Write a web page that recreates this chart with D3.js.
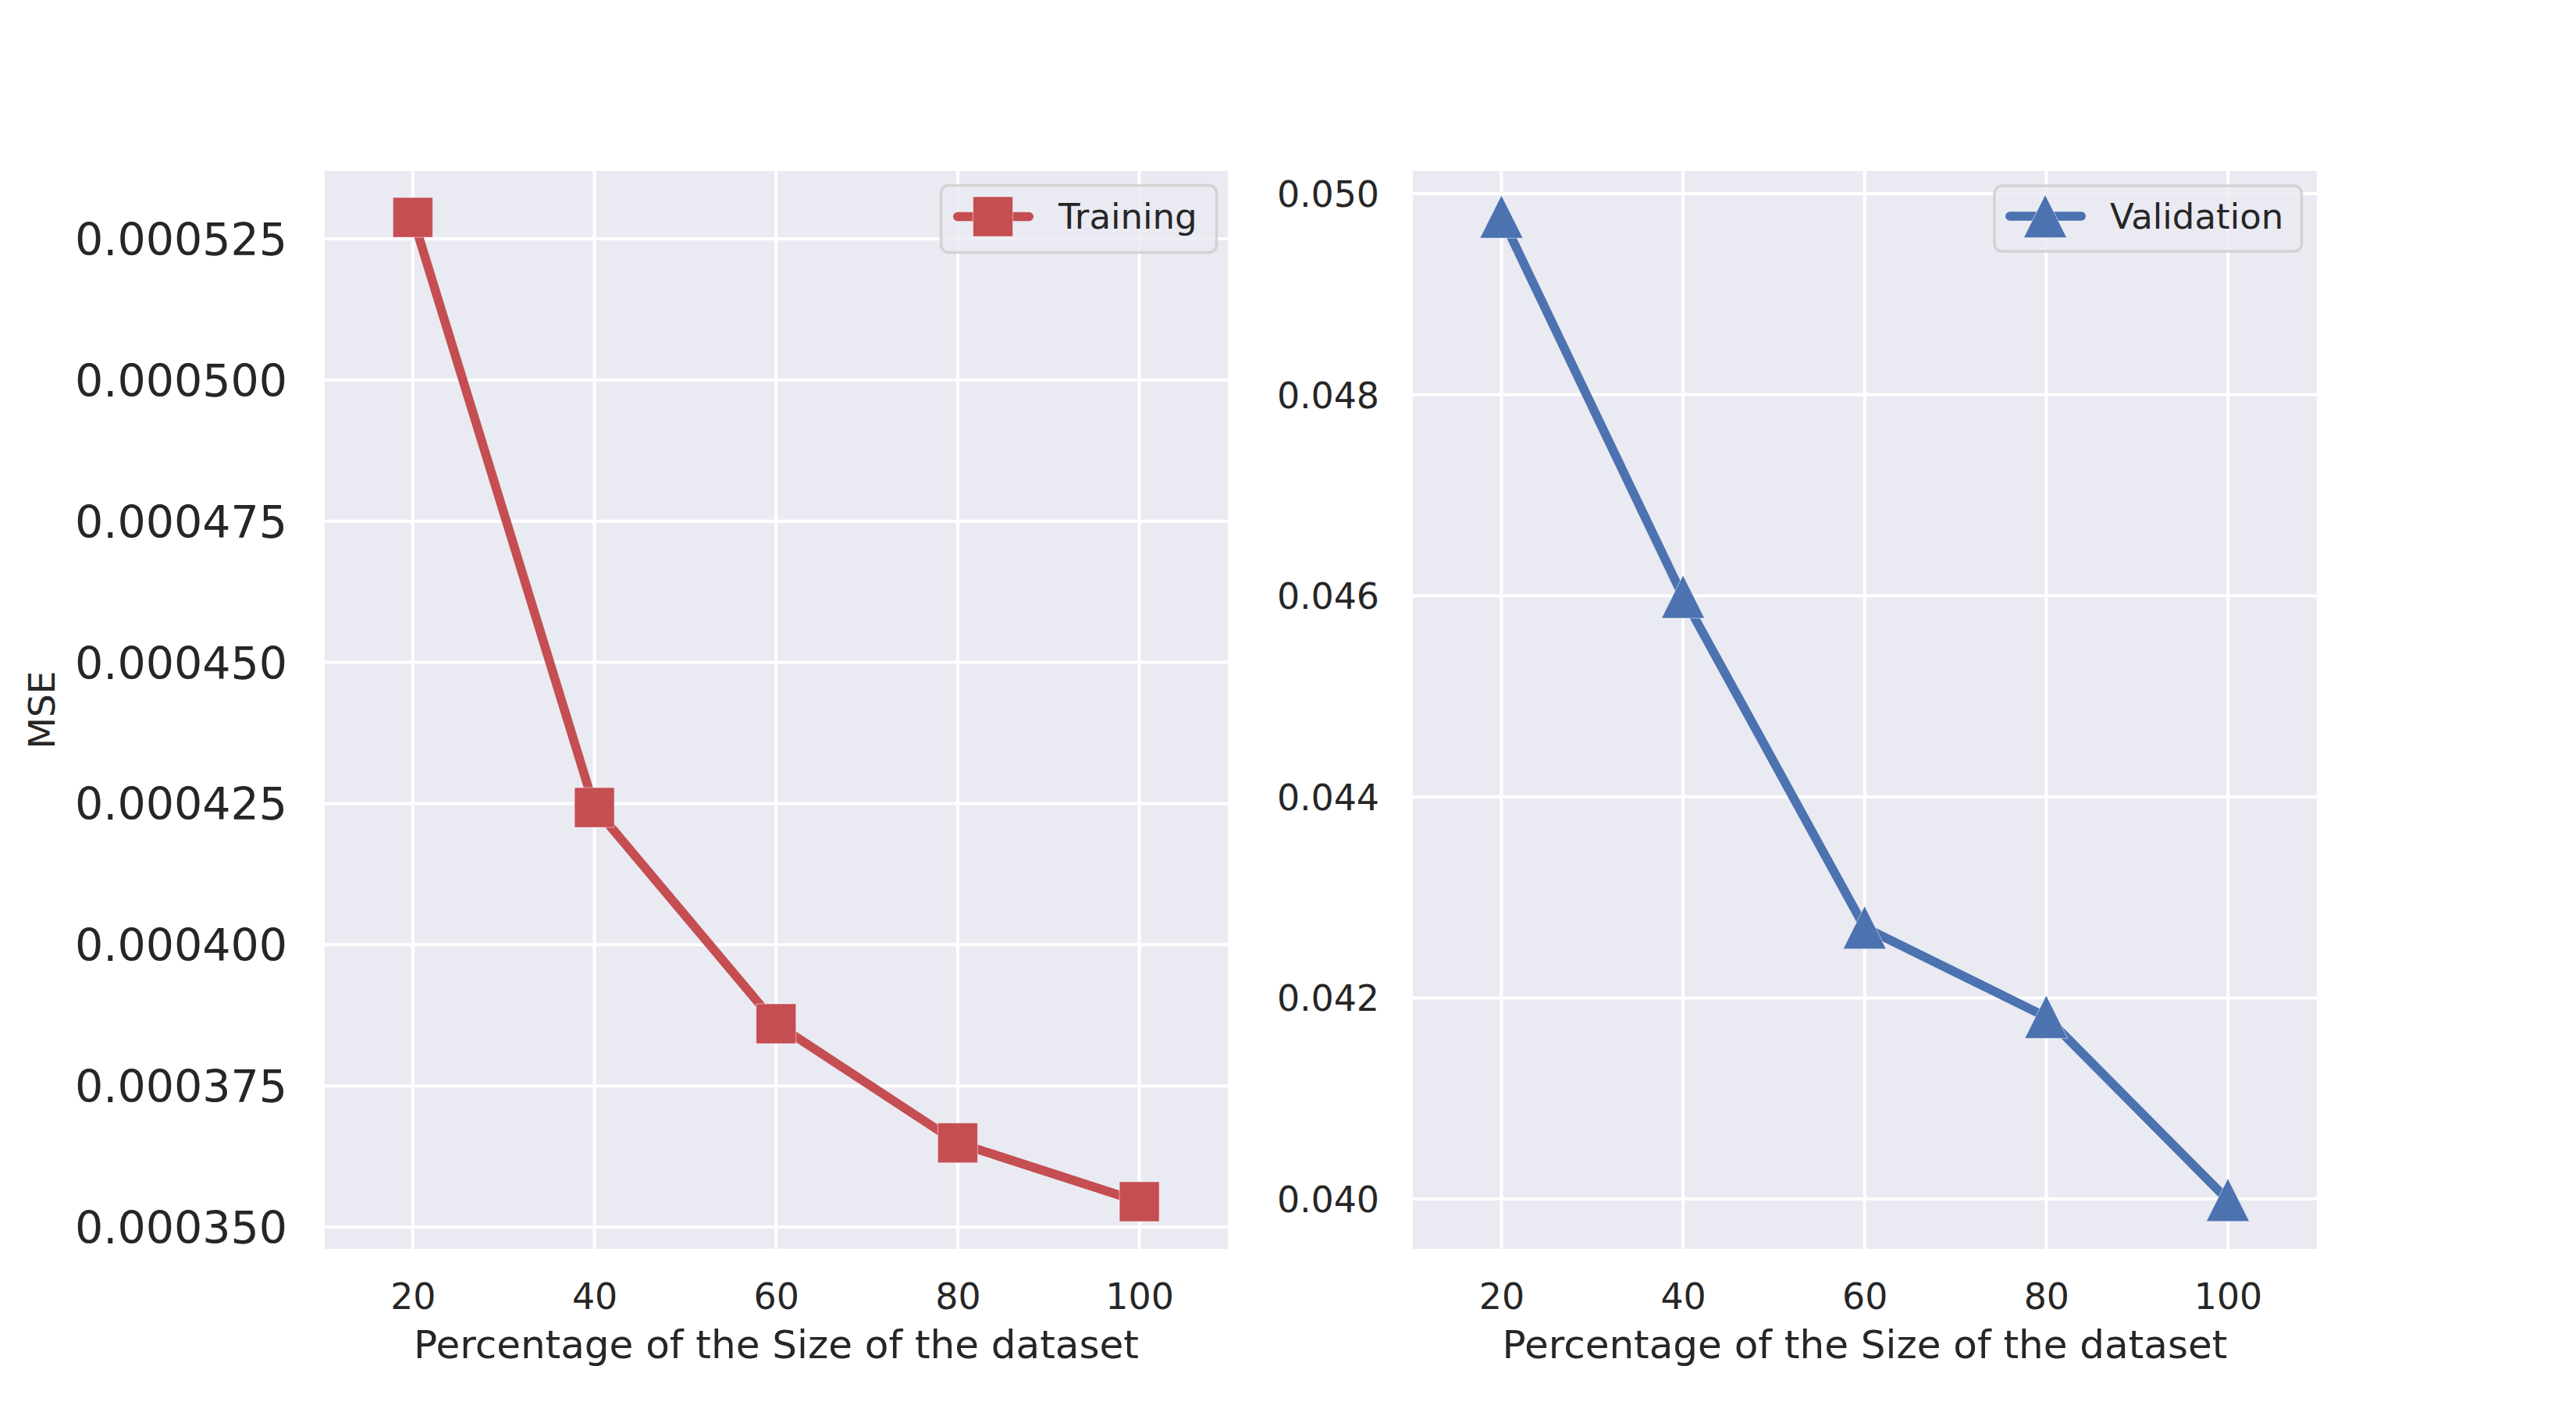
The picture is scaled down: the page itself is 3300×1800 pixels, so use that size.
<!DOCTYPE html>
<html>
<head>
<meta charset="utf-8">
<script src="https://cdnjs.cloudflare.com/ajax/libs/d3/7.8.5/d3.min.js"></script>
<style>
  html, body { margin: 0; padding: 0; background: #ffffff; }
  svg { display: block; }
  text { font-family: "DejaVu Sans", sans-serif; fill: #262626; }
</style>
</head>
<body>
<div id="chart"></div>
<script>
// ---- data ----
const sizes = [20, 40, 60, 80, 100];
const trainingMSE = [0.0005288, 0.0004243, 0.000386, 0.0003649, 0.0003545];
const validationMSE = [0.04977, 0.04599, 0.04270, 0.04181, 0.03999];
const xTicks = [20, 40, 60, 80, 100];
const trainYTicks = [0.000350, 0.000375, 0.000400, 0.000425, 0.000450, 0.000475, 0.000500, 0.000525];
const valYTicks = [0.040, 0.042, 0.044, 0.046, 0.048, 0.050];
const xLabel = "Percentage of the Size of the dataset";
const yLabel = "MSE";
const seriesNames = ["Training", "Validation"];

// ---- layout ----
const W = 3300, H = 1800;
const svg = d3.select("#chart").append("svg").attr("width", W).attr("height", H);
svg.append("rect").attr("width", W).attr("height", H).attr("fill", "#ffffff");

const panels = [
  {
    left: 416, right: 1573, top: 219, bottom: 1600,
    xDomain: [10.3, 109.75], yDomain: [0.00034613, 0.00053703],
    values: trainingMSE, yTicks: trainYTicks, fmt: d3.format(".6f"),
    tickFont: 57, color: "#C44E52", marker: "square", name: seriesNames[0],
    ylabel: true,
    legend: { x0: 1205.5, x1: 1558.5, y0: 237.5, y1: 323.5, lineX0: 1221, lineX1: 1324, cy: 277.5, mx: 1272, tx: 1356, ty: 293 }
  },
  {
    left: 1810, right: 2968, top: 219, bottom: 1600,
    xDomain: [10.25, 109.8], yDomain: [0.039503, 0.050225],
    values: validationMSE, yTicks: valYTicks, fmt: d3.format(".3f"),
    tickFont: 45.8, color: "#4C72B0", marker: "triangle", name: seriesNames[1],
    ylabel: false,
    legend: { x0: 2555, x1: 2948.5, y0: 238, y1: 322, lineX0: 2569, lineX1: 2672, cy: 277, mx: 2620, tx: 2703, ty: 293 }
  }
];

const SQ = 51, TRI = 55, LW = 11.5;

function markerPath(type) {
  if (type === "square") {
    const h = SQ / 2;
    return `M${-h},${-h}L${h},${-h}L${h},${h}L${-h},${h}Z`;
  }
  const h = TRI / 2;
  return `M0,${-h}L${-h},${h}L${h},${h}Z`;
}

panels.forEach(p => {
  const x = d3.scaleLinear().domain(p.xDomain).range([p.left, p.right]);
  const y = d3.scaleLinear().domain(p.yDomain).range([p.bottom, p.top]);
  const g = svg.append("g");

  // background
  g.append("rect").attr("x", p.left).attr("y", p.top)
    .attr("width", p.right - p.left).attr("height", p.bottom - p.top)
    .attr("fill", "#EAEAF2");

  // grid
  g.selectAll(".gx").data(xTicks).enter().append("line")
    .attr("x1", d => x(d)).attr("x2", d => x(d))
    .attr("y1", p.top).attr("y2", p.bottom)
    .attr("stroke", "#ffffff").attr("stroke-width", 4);
  g.selectAll(".gy").data(p.yTicks).enter().append("line")
    .attr("x1", p.left).attr("x2", p.right)
    .attr("y1", d => y(d)).attr("y2", d => y(d))
    .attr("stroke", "#ffffff").attr("stroke-width", 4);

  // axes (tick labels via d3 axes, no domain/ticks lines)
  const xAxis = d3.axisBottom(x).tickValues(xTicks).tickSize(0).tickPadding(0).tickFormat(d3.format("d"));
  const xa = g.append("g").attr("transform", `translate(0,${p.bottom})`).call(xAxis);
  xa.select(".domain").remove();
  xa.selectAll("text").attr("font-size", 45.8).attr("font-family", "DejaVu Sans")
    .attr("fill", "#262626").attr("dy", null).attr("y", 77);

  const yAxis = d3.axisLeft(y).tickValues(p.yTicks).tickSize(0).tickPadding(p.left === 416 ? 48 : 43).tickFormat(p.fmt);
  const ya = g.append("g").attr("transform", `translate(${p.left},0)`).call(yAxis);
  ya.select(".domain").remove();
  ya.selectAll("text").attr("font-size", p.tickFont).attr("font-family", "DejaVu Sans")
    .attr("fill", "#262626").attr("dy", "0.36em");

  // axis labels
  g.append("text").attr("x", (p.left + p.right) / 2).attr("y", 1740)
    .attr("text-anchor", "middle").attr("font-size", 50).text(xLabel);
  if (p.ylabel) {
    g.append("text").attr("transform", `translate(70,${(p.top + p.bottom) / 2}) rotate(-90)`)
      .attr("text-anchor", "middle").attr("font-size", 47).text(yLabel);
  }

  // series line
  const line = d3.line().x((d, i) => x(sizes[i])).y(d => y(d));
  g.append("path").datum(p.values).attr("d", line)
    .attr("fill", "none").attr("stroke", p.color).attr("stroke-width", LW)
    .attr("stroke-linejoin", "round").attr("stroke-linecap", "round");

  // markers
  g.selectAll(".m").data(p.values).enter().append("path")
    .attr("transform", (d, i) => `translate(${x(sizes[i])},${y(d)})`)
    .attr("d", markerPath(p.marker))
    .attr("fill", p.color).attr("stroke", "#ffffff").attr("stroke-opacity", 0.5).attr("stroke-width", 1);

  // legend
  const L = p.legend;
  g.append("rect").attr("x", L.x0).attr("y", L.y0)
    .attr("width", L.x1 - L.x0).attr("height", L.y1 - L.y0)
    .attr("rx", 10).attr("ry", 10)
    .attr("fill", "#EAEAF2").attr("fill-opacity", 0.8)
    .attr("stroke", "#CCCCCC").attr("stroke-opacity", 0.8).attr("stroke-width", 3.5);
  g.append("line").attr("x1", L.lineX0 + LW / 2).attr("x2", L.lineX1 - LW / 2)
    .attr("y1", L.cy).attr("y2", L.cy)
    .attr("stroke", p.color).attr("stroke-width", LW).attr("stroke-linecap", "round");
  g.append("path").attr("transform", `translate(${L.mx},${L.cy})`)
    .attr("d", markerPath(p.marker))
    .attr("fill", p.color).attr("stroke", "#ffffff").attr("stroke-opacity", 0.5).attr("stroke-width", 1);
  g.append("text").attr("x", L.tx).attr("y", L.ty).attr("font-size", 45).text(p.name);
});
</script>
</body>
</html>
